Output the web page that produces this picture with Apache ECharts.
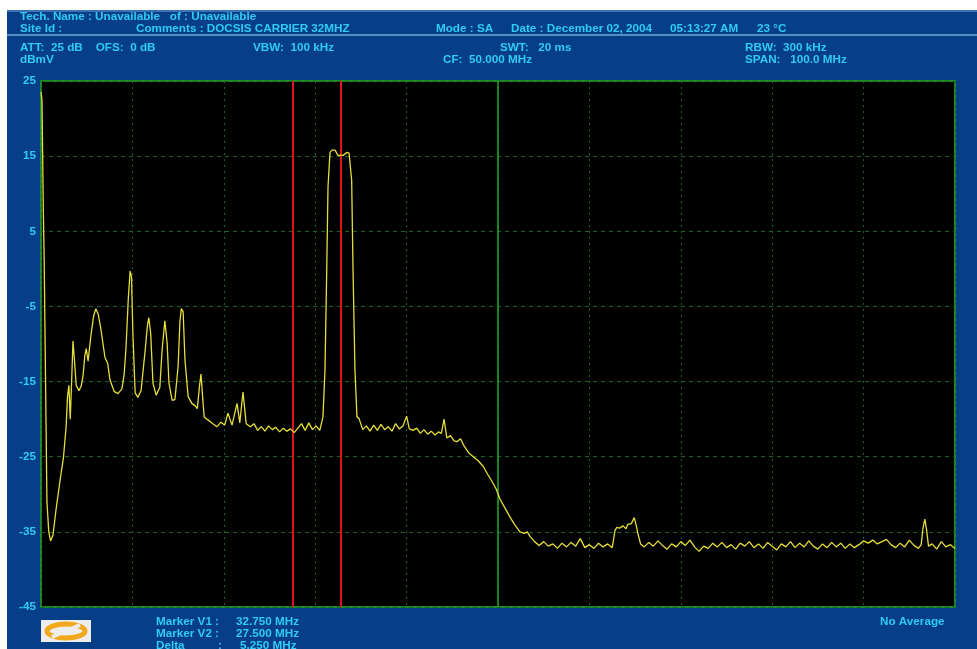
<!DOCTYPE html>
<html>
<head>
<meta charset="utf-8">
<script src="https://cdn.jsdelivr.net/npm/echarts@6/dist/echarts.min.js"></script>
<style>
html,body{margin:0;padding:0;background:#fff;}
#c{width:977px;height:649px;}
</style>
</head>
<body>
<div id="c"></div>
<script>
// Frequency (MHz) and level (dBmV) of the spectrum trace
var freqMHz = [
  0.00,0.11,0.25,0.35,0.50,0.65,0.85,1.05,1.30,1.65,2.10,2.45,2.75,2.90,3.05,3.20,3.35,3.50,3.65,3.85,
  4.15,4.40,4.60,4.80,4.95,5.15,5.45,5.75,6.00,6.25,6.55,7.00,7.30,7.55,8.00,8.40,8.85,9.10,9.30,9.55,
  9.75,9.90,10.05,10.30,10.60,10.95,11.40,11.65,11.80,12.00,12.25,12.60,13.00,13.25,13.55,13.80,14.00,14.35,14.65,15.00,
  15.20,15.35,15.55,15.75,16.10,16.50,16.85,17.10,17.35,17.50,17.65,17.85,18.25,18.70,19.25,19.70,20.10,20.45,20.90,21.45,
  21.75,22.10,22.45,22.90,23.30,23.70,24.10,24.50,24.90,25.30,25.70,26.10,26.50,26.90,27.30,27.70,28.10,28.50,28.90,29.30,
  29.70,30.10,30.50,30.70,30.85,31.07,31.26,31.40,31.62,31.84,32.17,32.49,32.82,33.04,33.48,33.70,33.99,34.14,34.35,34.57,
  34.79,35.20,35.60,36.00,36.40,36.80,37.20,37.60,38.00,38.40,38.80,39.20,39.60,40.00,40.30,40.70,41.10,41.50,41.90,42.30,
  42.70,43.10,43.50,43.80,44.10,44.40,44.80,45.20,45.50,45.90,46.30,46.80,47.30,47.80,48.40,48.80,49.30,49.80,50.20,50.80,
  51.30,51.80,52.40,52.90,53.20,53.50,54.00,54.50,55.00,55.50,56.00,56.50,57.00,57.50,58.00,58.50,59.00,59.50,60.00,60.50,
  61.00,61.50,62.00,62.50,62.80,63.00,63.30,63.70,64.00,64.20,64.60,64.90,65.10,65.30,65.60,66.00,66.50,67.00,67.50,68.00,
  68.50,69.00,69.50,70.00,70.50,71.00,71.50,72.00,72.50,73.00,73.50,74.00,74.50,75.00,75.50,76.00,76.50,77.00,77.50,78.00,
  78.50,79.00,79.50,80.00,80.50,81.00,81.50,82.00,82.50,83.00,83.50,84.00,84.50,85.00,85.50,86.00,86.50,87.00,87.50,88.00,
  88.50,89.00,89.50,90.00,90.50,91.00,91.50,92.00,92.50,93.00,93.50,94.00,94.50,95.00,95.50,96.00,96.30,96.50,96.70,96.90,
  97.10,97.50,98.00,98.50,99.00,99.50,100.00
];
var levelDbmv = [
  23.5,22.5,8.0,1.0,-15.0,-31.0,-35.0,-36.2,-35.5,-32.0,-28.0,-25.2,-21.0,-17.0,-15.5,-20.0,-15.0,-9.6,-12.0,-15.5,
  -16.2,-15.6,-14.2,-11.5,-10.6,-12.3,-9.0,-6.3,-5.3,-6.0,-8.0,-11.8,-12.6,-14.8,-16.3,-16.6,-16.0,-14.0,-10.5,-4.0,
  -0.3,-1.0,-8.5,-16.5,-17.1,-16.2,-10.8,-7.5,-6.5,-8.6,-15.2,-16.8,-15.8,-10.8,-6.9,-9.9,-15.2,-17.5,-17.4,-13.0,
  -7.0,-5.3,-5.7,-12.1,-17.0,-17.9,-18.2,-18.6,-15.5,-14.0,-16.5,-19.7,-20.1,-20.5,-21.0,-20.4,-20.8,-19.2,-20.8,-17.9,
  -20.5,-16.4,-20.6,-21.0,-20.6,-21.5,-21.0,-21.6,-20.9,-21.4,-21.1,-21.7,-21.2,-21.6,-21.3,-21.8,-21.2,-20.6,-21.5,-20.5,
  -21.4,-20.9,-21.5,-21.3,-19.7,-13.5,-0.2,10.9,15.5,15.8,15.8,15.1,15.1,15.1,15.5,15.4,11.8,-0.2,-13.5,-19.7,
  -19.9,-21.4,-20.9,-21.6,-20.8,-21.5,-20.7,-21.4,-21.0,-21.6,-20.6,-21.3,-20.9,-19.6,-21.3,-21.5,-21.2,-21.9,-21.4,-22.0,
  -21.6,-22.1,-21.7,-21.9,-20.0,-22.5,-22.2,-22.9,-23.0,-22.6,-23.6,-24.5,-25.0,-25.5,-26.3,-27.2,-28.2,-29.3,-30.6,-31.9,
  -33.0,-34.0,-35.0,-35.2,-35.0,-35.6,-36.3,-36.8,-36.3,-36.9,-36.6,-37.2,-36.5,-37.0,-36.4,-36.9,-35.9,-37.1,-36.7,-37.2,
  -36.5,-37.0,-36.6,-37.1,-34.8,-34.4,-34.5,-34.2,-34.6,-34.0,-33.9,-33.1,-34.0,-35.2,-36.6,-37.0,-36.4,-36.9,-36.2,-36.8,
  -37.3,-36.6,-37.0,-36.3,-36.8,-36.1,-37.0,-37.6,-36.9,-37.2,-36.5,-37.0,-36.4,-37.1,-36.7,-37.3,-36.5,-36.9,-36.3,-37.1,
  -36.6,-37.2,-36.4,-36.9,-37.4,-36.6,-37.0,-36.3,-37.1,-36.5,-37.0,-36.2,-36.9,-37.3,-36.6,-37.1,-36.4,-37.0,-36.5,-37.2,
  -36.6,-37.1,-36.7,-36.2,-36.5,-36.1,-36.6,-36.3,-36.0,-36.7,-37.1,-36.5,-37.0,-36.1,-36.8,-37.2,-36.7,-34.5,-33.3,-34.8,
  -36.9,-36.6,-37.3,-36.3,-37.0,-36.7,-37.2
];
var markerFreqs = [27.5, 32.75];   // V2, V1
var centerFreq = [50];
var yMin = -45, yMax = 25, yStep = 10;
var xMin = 0, xMax = 100, xStep = 10;

var chart = echarts.init(document.getElementById('c'));
var cyan = '#2FCBF2';
var font = '"Liberation Sans", Arial, sans-serif';
var F = 'bold 11.7px ' + font;
function t(x, y, s) {
  return {type: 'text', left: x, top: y, style: {text: s, fill: cyan, font: F}, z: 10};
}
var pairs = freqMHz.map(function (f, i) { return [f, levelDbmv[i]]; });

var option = {
  backgroundColor: '#ffffff',
  animation: false,
  graphic: [
    {type: 'rect', shape: {x: 7, y: 10, width: 970, height: 639}, style: {fill: '#063F88'}, z: -10},
    {type: 'line', shape: {x1: 7, y1: 11, x2: 977, y2: 11}, style: {stroke: '#4E86C0', lineWidth: 1.5}, z: -5},
    {type: 'line', shape: {x1: 7, y1: 35, x2: 977, y2: 35}, style: {stroke: '#6FA8D8', lineWidth: 1.5}, z: -5},
    t(20, 11, 'Tech. Name : Unavailable   of : Unavailable'),
    t(20, 23, 'Site Id :'),
    t(136, 23, 'Comments : DOCSIS CARRIER 32MHZ'),
    t(436, 23, 'Mode : SA'),
    t(511, 23, 'Date : December 02, 2004'),
    t(670, 23, '05:13:27 AM'),
    t(757, 23, '23 °C'),
    t(20, 42, 'ATT:  25 dB    OFS:  0 dB'),
    t(253, 42, 'VBW:  100 kHz'),
    t(500, 42, 'SWT:   20 ms'),
    t(745, 42, 'RBW:  300 kHz'),
    t(20, 54, 'dBmV'),
    t(443, 54, 'CF:  50.000 MHz'),
    t(745, 54, 'SPAN:   100.0 MHz'),
    // logo
    {type: 'rect', shape: {x: 41, y: 620, width: 50, height: 22}, style: {fill: '#EDEDED'}},
    {type: 'ellipse', shape: {cx: 66, cy: 631, rx: 19, ry: 7}, style: {fill: 'none', stroke: '#F2A81C', lineWidth: 5}},
    {type: 'line', shape: {x1: 52, y1: 637, x2: 80, y2: 625}, style: {stroke: '#EDEDED', lineWidth: 4}},
    // marker readouts
    t(156, 616, 'Marker V1 :'),
    t(236, 616, '32.750 MHz'),
    t(156, 628, 'Marker V2 :'),
    t(236, 628, '27.500 MHz'),
    t(156, 640, 'Delta'),
    t(218, 640, ':'),
    t(240, 640, '5.250 MHz'),
    t(880, 616, 'No Average')
  ],
  grid: {
    left: 41, top: 81, width: 914, height: 526,
    show: true, backgroundColor: '#000000', borderColor: '#1F8A2A', borderWidth: 2
  },
  xAxis: {
    type: 'value', min: xMin, max: xMax, interval: xStep,
    axisLine: {show: false}, axisTick: {show: false}, axisLabel: {show: false},
    splitLine: {show: true, lineStyle: {color: '#1E6424', type: [2, 4], width: 1}}
  },
  yAxis: {
    type: 'value', min: yMin, max: yMax, interval: yStep,
    axisLine: {show: false}, axisTick: {show: false},
    axisLabel: {color: cyan, fontWeight: 'bold', fontSize: 11.7, fontFamily: font, margin: 5},
    splitLine: {show: true, lineStyle: {color: '#1E6424', type: [4, 4], width: 1}}
  },
  series: [
    {
      type: 'line', data: pairs, showSymbol: false, symbol: 'none',
      lineStyle: {color: '#E6DE3A', width: 1.3}, z: 5,
      markLine: {
        silent: true, symbol: 'none', label: {show: false}, animation: false,
        data: markerFreqs.map(function (f) { return {xAxis: f, lineStyle: {color: '#E0141A', width: 2, type: 'solid'}}; })
          .concat(centerFreq.map(function (f) { return {xAxis: f, lineStyle: {color: '#1FA82A', width: 1.5, type: 'solid'}}; }))
      }
    }
  ]
};
chart.setOption(option);
</script>
</body>
</html>
